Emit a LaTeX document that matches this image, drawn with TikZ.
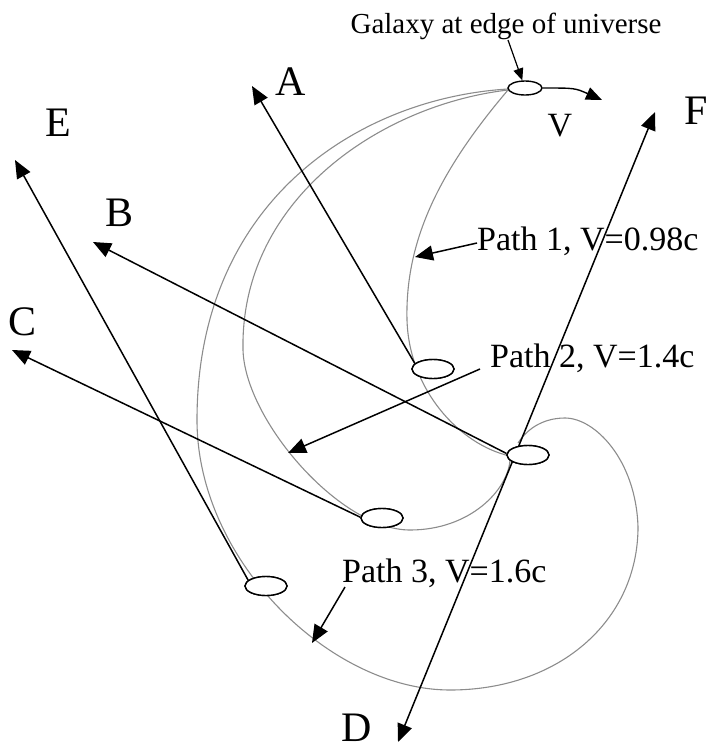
\documentclass[tikz,border=0pt]{standalone}
\usepackage{fontspec}
\setmainfont{Liberation Serif}
\usetikzlibrary{shapes.geometric,arrows.meta}
\begin{document}
\begin{tikzpicture}[x=1pt,y=-1pt,
  galx/.style={ellipse,draw,fill=white,line width=1.4pt,inner sep=0pt,minimum width=42pt,minimum height=19pt},
  ray/.style={line width=1.5pt,-{Triangle[length=18pt,width=15pt]}},
  dray/.style={line width=1.5pt,{Triangle[length=18pt,width=15pt]}-{Triangle[length=18pt,width=15pt]}},
  orbit/.style={draw=black!45,line width=1.1pt},
  bigl/.style={font=\fontsize{42}{42}\selectfont,inner sep=0pt},
  pathl/.style={font=\fontsize{34}{34}\selectfont,inner sep=0pt,anchor=base west},
]
\useasboundingbox (0,0) rectangle (710,750);

% light paths
% Path 1
\draw[orbit] (508,90) .. controls (440,170) and (405,240) .. (407,320)
  .. controls (409,390) and (460,445) .. (510,456);
% Path 2
\draw[orbit] (508,90) .. controls (380,105) and (240,200) .. (243,350)
  .. controls (245,420) and (340,530) .. (410,530)
  .. controls (470,530) and (508,490) .. (510,460);
% Path 3
\draw[orbit] (508,89) .. controls (360,98) and (197,200) .. (197,420)
  .. controls (197,560) and (330,690) .. (450,690)
  .. controls (560,690) and (638,620) .. (638,527)
  .. controls (636,460) and (595,418) .. (565,418)
  .. controls (540,418) and (525,432) .. (518,443);

% galaxy images
\node[galx] (eA) at (433,369) {};
\node[galx] (eM) at (528,455) {};
\node[galx] (eC) at (382,518) {};
\node[galx] (eE) at (266,586) {};

% direction tips
\coordinate (tA) at (252,86);
\coordinate (tB) at (93,242);
\coordinate (tC) at (12,350);
\coordinate (tE) at (15,160);
\coordinate (tF) at (655,112);
\coordinate (tD) at (398,742);

\draw[ray] (eA.163) -- (tA);
\draw[ray] (eM.176) -- (tB);
\draw[ray] (eC.178) -- (tC);
\draw[ray] (eE.162) -- (tE);
\draw[dray] (tD) -- (tF);

% redraw ellipses on top
\node[galx] at (eA) {};
\node[galx] at (eM) {};
\node[galx] at (eC) {};
\node[galx] at (eE) {};

% galaxy at edge
\node[ellipse,draw,fill=white,line width=1.4pt,inner sep=0pt,minimum width=34pt,minimum height=14pt] (gal) at (525,88) {};
\node[font=\fontsize{29}{29}\selectfont,inner sep=0pt,anchor=base] (galtxt) at (506,33) {Galaxy at edge of universe};
\coordinate (galarr) at (508,40);
\draw[line width=1.2pt,-{Triangle[length=12pt,width=10pt]}] (galarr) -- (gal);
\coordinate (vtip) at (602,100);
\draw[line width=1.4pt,-{Triangle[length=16pt,width=13pt]}] (gal.east) .. controls (575,88) .. (vtip);
\node[font=\fontsize{34}{34}\selectfont,inner sep=0pt] (vl) at (560,126) {V};

% letters
\node[bigl] (lA) at (291,82) {A};
\node[bigl] (lB) at (120,213) {B};
\node[bigl] (lC) at (23,322) {C};
\node[bigl] (lD) at (357,728) {D};
\node[bigl] (lE) at (58,123) {E};
\node[bigl] (lF) at (696,111) {F};

% path labels
\node[pathl] (p1) at (477,250) {Path 1, V=0.98c};
\node[pathl] (p2) at (490,367) {Path 2, V=1.4c};
\node[pathl] (p3) at (342,582) {Path 3, V=1.6c};
\coordinate (p1s) at (477,243);
\coordinate (p1t) at (415,257);
\coordinate (p2s) at (480,369);
\coordinate (p2t) at (288,453);
\coordinate (p3s) at (345,587);
\coordinate (p3t) at (312,643);
\draw[ray] (p1s) -- (p1t);
\draw[ray] (p2s) -- (p2t);
\draw[ray] (p3s) -- (p3t);
\end{tikzpicture}
\end{document}
